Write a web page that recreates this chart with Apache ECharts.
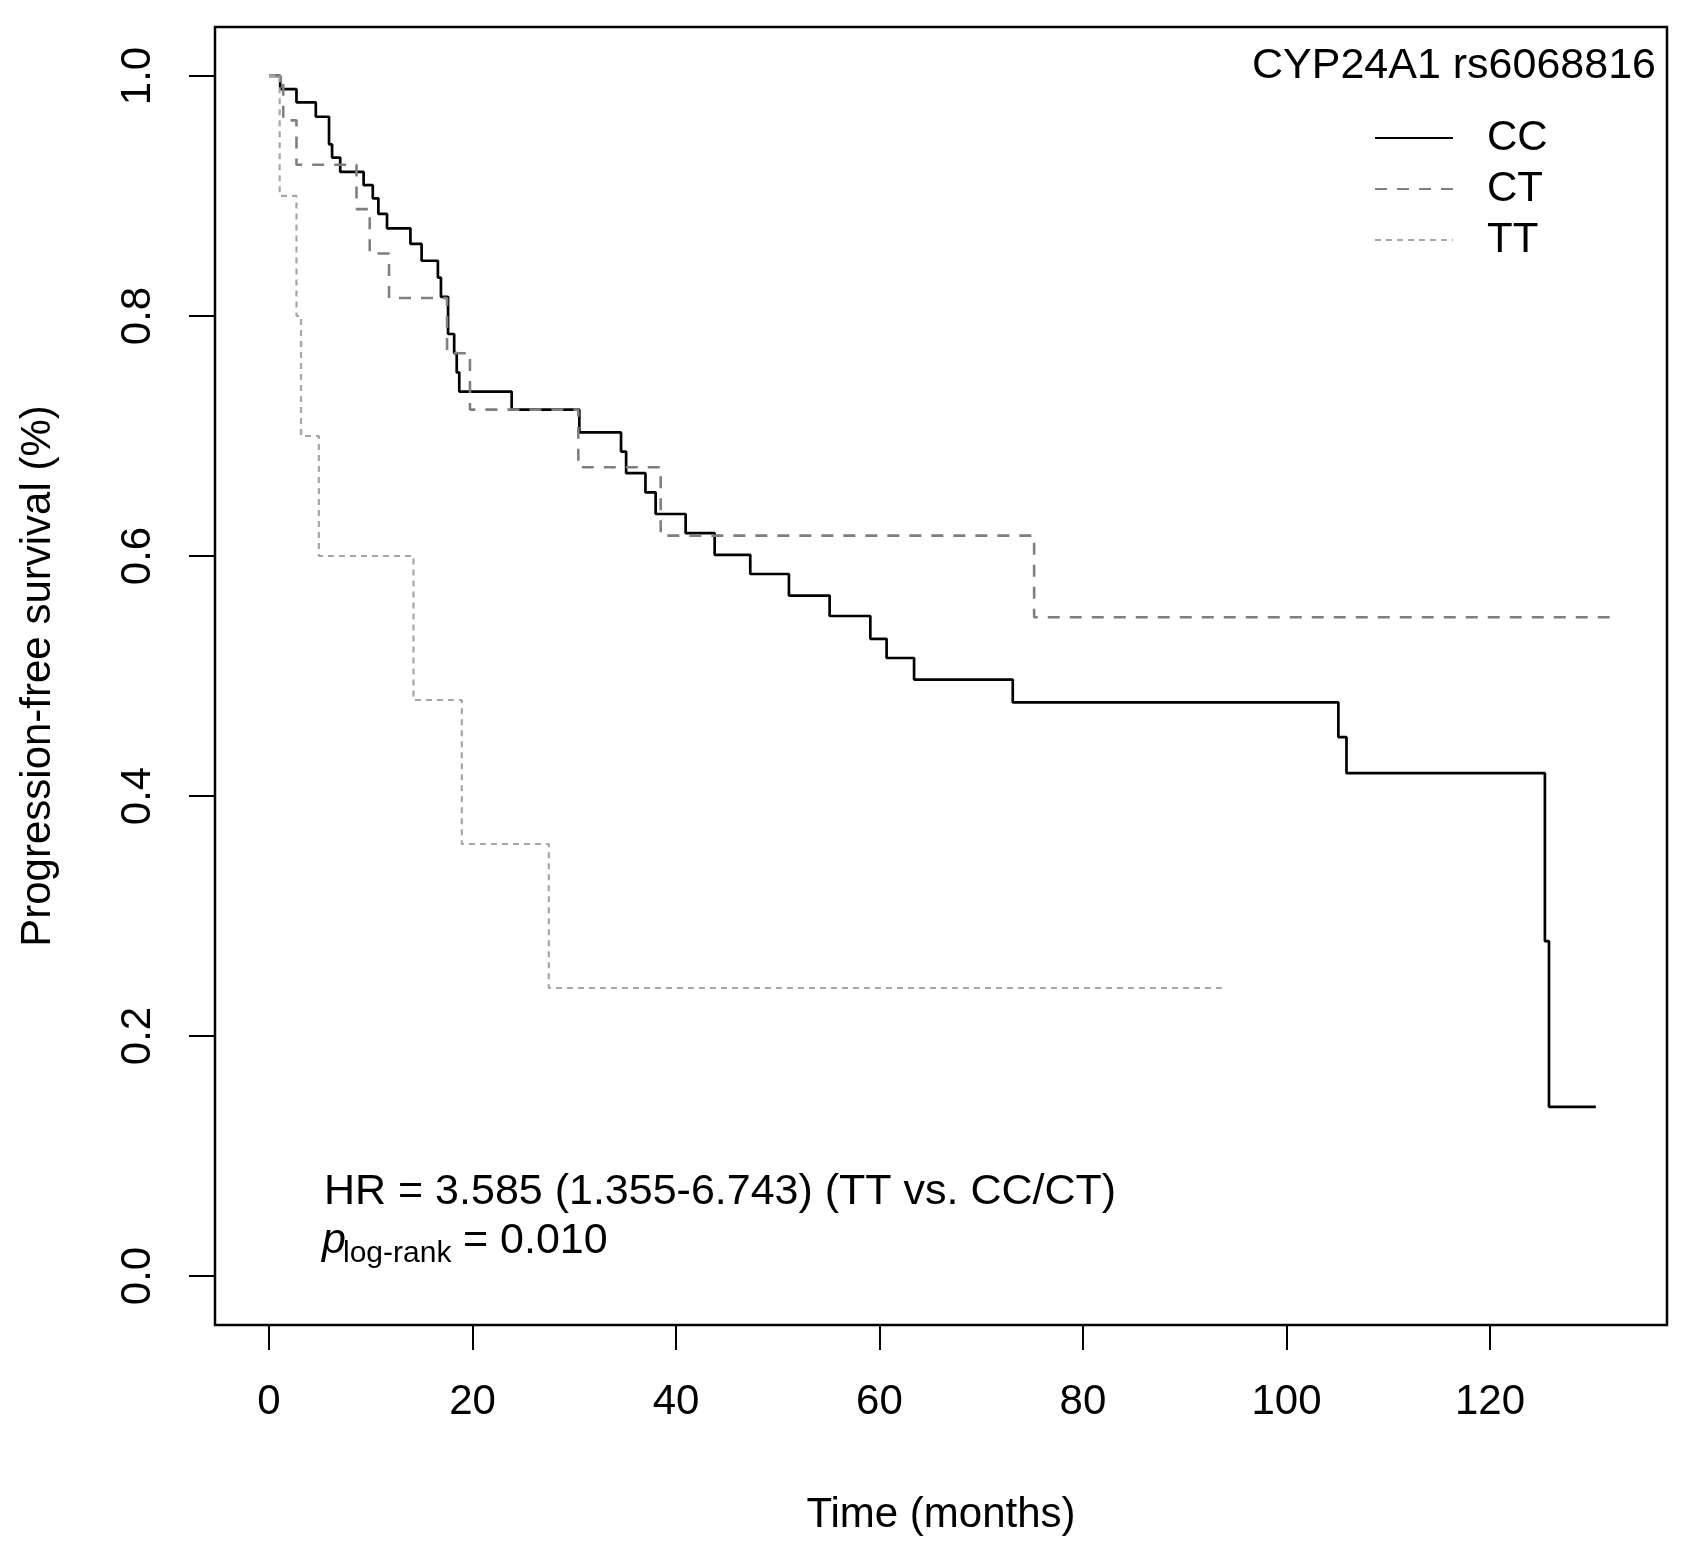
<!DOCTYPE html>
<html>
<head>
<meta charset="utf-8">
<script src="https://cdn.jsdelivr.net/npm/echarts@6/dist/echarts.min.js"></script>
<style>
html,body{margin:0;padding:0;background:#fff;}
#chart{width:1694px;height:1555px;}
</style>
</head>
<body>
<div id="chart"></div>
<script>
// ---- data ----
const ccTime = [0, 1.1, 2.7, 4.6, 5.9, 6.2, 7.0, 9.3, 10.2, 10.75, 11.6, 13.9, 15.0, 16.6, 16.9, 17.6, 18.2, 18.45, 18.7, 23.85, 30.5, 34.6, 35.1, 37.0, 38.0, 40.95, 43.8, 47.3, 51.1, 55.1, 59.1, 60.7, 63.4, 73.1, 105.1, 105.9, 125.4, 125.8, 130.4];
const ccSurv = [1.0, 0.989, 0.978, 0.966, 0.943, 0.932, 0.920, 0.909, 0.898, 0.885, 0.873, 0.860, 0.846, 0.832, 0.816, 0.785, 0.769, 0.753, 0.737, 0.722, 0.703, 0.687, 0.669, 0.653, 0.635, 0.619, 0.601, 0.585, 0.567, 0.550, 0.531, 0.515, 0.497, 0.478, 0.449, 0.419, 0.279, 0.141, 0.141];

const ctTime = [0, 1.4, 2.7, 8.6, 9.9, 11.8, 17.5, 19.75, 30.4, 38.5, 75.2, 131.9];
const ctSurv = [1.0, 0.963, 0.926, 0.889, 0.852, 0.815, 0.769, 0.722, 0.674, 0.617, 0.549, 0.549];

const ttTime = [0, 1.05, 2.7, 3.15, 4.9, 14.2, 18.95, 27.5, 93.8];
const ttSurv = [1.0, 0.9, 0.8, 0.7, 0.6, 0.48, 0.36, 0.24, 0.24];

const groupNames = ['CC', 'CT', 'TT'];
const xTicks = [0, 20, 40, 60, 80, 100, 120];
const yTicks = [0, 0.2, 0.4, 0.6, 0.8, 1.0];
const xAxisName = 'Time (months)';
const yAxisName = 'Progression-free survival (%)';
const legendTitle = 'CYP24A1 rs6068816';
const hrText = 'HR = 3.585 (1.355-6.743) (TT vs. CC/CT)';
const pSymbol = 'p';
const pSub = 'log-rank';
const pValue = '= 0.010';

// ---- chart ----
const FONT = 'Liberation Sans, Arial, Helvetica, sans-serif';
function pairs(t, s) { return t.map((v, i) => [v, s[i]]); }

const chart = echarts.init(document.getElementById('chart'), null, {renderer: 'canvas'});
chart.setOption({
  animation: false,
  backgroundColor: '#fff',
  grid: {
    left: 215, top: 27, width: 1452, height: 1298,
    show: true, borderColor: '#000', borderWidth: 2.5, backgroundColor: 'transparent',
    containLabel: false
  },
  xAxis: {
    type: 'value', min: -5.307, max: 137.4,
    name: xAxisName, nameLocation: 'middle', nameGap: 169,
    nameTextStyle: {fontSize: 42, color: '#000', fontFamily: FONT},
    axisLine: {show: false, onZero: false},
    splitLine: {show: false},
    axisTick: {show: true, length: 25, lineStyle: {color: '#000', width: 2}, customValues: xTicks},
    axisLabel: {fontSize: 42, color: '#000', fontFamily: FONT, margin: 56, customValues: xTicks}
  },
  yAxis: {
    type: 'value', min: -0.0408, max: 1.0408,
    name: yAxisName, nameLocation: 'middle', nameGap: 156, nameRotate: 90,
    nameTextStyle: {fontSize: 42, color: '#000', fontFamily: FONT},
    axisLine: {show: false, onZero: false},
    splitLine: {show: false},
    axisTick: {show: true, length: 26, lineStyle: {color: '#000', width: 2}, customValues: yTicks},
    axisLabel: {fontSize: 42, color: '#000', fontFamily: FONT, margin: 56, rotate: 90,
      customValues: yTicks, formatter: v => Number(v).toFixed(1)}
  },
  legend: {
    data: groupNames, orient: 'vertical', left: 1369, top: 112,
    itemWidth: 78, itemHeight: 14, itemGap: 9, selectedMode: false,
    itemStyle: {opacity: 0},
    textStyle: {fontSize: 42, color: '#000', fontFamily: FONT, padding: [0, 0, 0, 29]}
  },
  graphic: [
    {type: 'text', x: 1656, y: 66, silent: true,
      style: {text: legendTitle, font: '43px ' + FONT, fill: '#000', align: 'right', textAlign: 'right', verticalAlign: 'middle', textVerticalAlign: 'middle'}},
    {type: 'text', x: 324, y: 1192, silent: true,
      style: {text: hrText, font: '43px ' + FONT, fill: '#000', align: 'left', textAlign: 'left', verticalAlign: 'middle', textVerticalAlign: 'middle'}},
    {type: 'text', x: 322, y: 1241, silent: true,
      style: {text: pSymbol, font: 'italic 43px ' + FONT, fill: '#000', align: 'left', textAlign: 'left', verticalAlign: 'middle', textVerticalAlign: 'middle'}},
    {type: 'text', x: 343, y: 1254, silent: true,
      style: {text: pSub, font: '30px ' + FONT, fill: '#000', align: 'left', textAlign: 'left', verticalAlign: 'middle', textVerticalAlign: 'middle'}},
    {type: 'text', x: 463, y: 1241, silent: true,
      style: {text: pValue, font: '43px ' + FONT, fill: '#000', align: 'left', textAlign: 'left', verticalAlign: 'middle', textVerticalAlign: 'middle'}}
  ],
  series: [
    {name: 'CC', type: 'line', step: 'end', symbol: 'none', showSymbol: false,
      data: pairs(ccTime, ccSurv), lineStyle: {color: '#000', width: 2.7, type: 'solid'}, itemStyle: {color: '#000'}},
    {name: 'CT', type: 'line', step: 'end', symbol: 'none', showSymbol: false,
      data: pairs(ctTime, ctSurv), lineStyle: {color: '#7f7f7f', width: 2.6, type: [12, 10]}, itemStyle: {color: '#7f7f7f'}},
    {name: 'TT', type: 'line', step: 'end', symbol: 'none', showSymbol: false,
      data: pairs(ttTime, ttSurv), lineStyle: {color: '#a6a6a6', width: 2.2, type: [6, 5]}, itemStyle: {color: '#a6a6a6'}}
  ]
});
</script>
</body>
</html>
